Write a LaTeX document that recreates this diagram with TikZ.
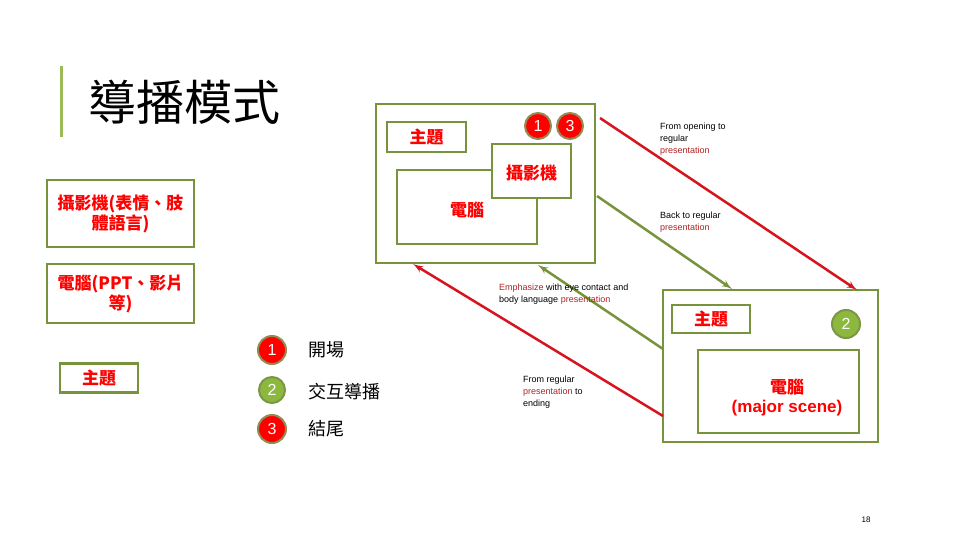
\documentclass[tikz,border=0pt]{standalone}
\usepackage{fontspec}
\setmainfont{Liberation Sans}
\newfontfamily\cjk{Noto Sans CJK TC}
\usetikzlibrary{arrows,positioning}

\definecolor{boxgreen}{HTML}{77933C}
\definecolor{bargreen}{HTML}{9BBB59}
\definecolor{arrowred}{HTML}{D7141E}
\definecolor{notered}{HTML}{B22222}
\definecolor{ballgreen}{HTML}{8DB83E}
\definecolor{ballrim}{HTML}{948A54}

\begin{document}
\begin{tikzpicture}
        [
            x=1pt, y=-1pt,
            frame/.style = {
                draw=boxgreen,
                line width=2.5pt,
                fill=white,
                inner sep=0pt
            },
            label/.style = {
                text=red,
                font=\cjk\bfseries\fontsize{17}{20}\selectfont,
                align=center,
                inner sep=0pt
            },
            ball/.style = {
                circle,
                draw=ballrim,
                line width=2pt,
                fill=red,
                text=white,
                minimum size=26pt,
                inner sep=0pt,
                font=\fontsize{16}{16}\selectfont
            },
            greenball/.style = {
                ball,
                fill=ballgreen,
                draw=bargreen!80!black
            },
            note/.style = {
                anchor=north west,
                align=left,
                inner sep=0pt,
                font=\fontsize{9}{12}\selectfont
            },
            legend/.style = {
                anchor=west,
                inner sep=0pt,
                font=\cjk\fontsize{18}{18}\selectfont
            },
            redline/.style = {
                draw=arrowred,
                line width=2.5pt,
                -latex'
            },
            greenline/.style = {
                draw=boxgreen,
                line width=2.5pt,
                -latex'
            }
        ]

        \useasboundingbox (0,0) rectangle (960,540);

        % title
        \draw[bargreen, line width=3pt] (61,66) -- (61,137);
        \node[anchor=west, inner sep=0pt, font=\cjk\fontsize{48}{48}\selectfont] (title) at (88,102) {導播模式};

        % opening / ending scene
        \node[frame, minimum width=219pt, minimum height=159pt] (topbox) at (485.5,183.5) {};
        \node[frame, minimum width=79pt, minimum height=30pt] (topsubject) at (426.5,137) {};
        \node[label] at (topsubject) {主題};
        \node[frame, minimum width=140pt, minimum height=74pt] (toppc) at (467,207) {};
        \node[label] at (467,210) {電腦};
        \node[frame, minimum width=79pt, minimum height=54pt] (topcam) at (531.5,171) {};
        \node[label] at (531.5,173) {攝影機};
        \node[ball] (one) at (538,126) {1};
        \node[ball] (three) at (570,126) {3};

        % regular scene
        \node[frame, minimum width=215pt, minimum height=152pt] (mainbox) at (770.5,366) {};
        \node[frame, minimum width=78pt, minimum height=28pt] (mainsubject) at (711,319) {};
        \node[label] at (mainsubject) {主題};
        \node[greenball, minimum size=28pt] (two) at (846,324) {2};
        \node[frame, minimum width=161pt, minimum height=83pt] (mainpc) at (778.5,391.5) {};
        \node[label, font=\bfseries\fontsize{17}{19}\selectfont] at (787,398) {{\cjk 電腦}\\(major scene)};

        % sources on the left
        \node[frame, minimum width=147pt, minimum height=67pt] (camsrc) at (120.5,213.5) {};
        \node[label, text width=140pt] at (camsrc) {攝影機(表情、肢\\體語言)};
        \node[frame, minimum width=147pt, minimum height=59pt] (pcsrc) at (120.5,293.5) {};
        \node[label, text width=140pt] at (pcsrc) {電腦(PPT、影片\\等)};
        \node[frame, minimum width=78pt, minimum height=29pt] (subjsrc) at (99,378) {};
        \node[label] at (subjsrc) {主題};

        % legend
        \node[ball, minimum size=28pt] (key1) at (272,350) {1};
        \node[greenball] (key2) at (272,390) {2};
        \node[ball, minimum size=28pt] (key3) at (272,429) {3};
        \node[legend] (open) at (308,350) {開場};
        \node[legend] (inter) at (308,392) {交互導播};
        \node[legend] (close) at (308,429) {結尾};

        % connectors
        \coordinate (r1a) at (600,118);
        \coordinate (r1b) at (857,290);
        \coordinate (g1a) at (597,196);
        \coordinate (g1b) at (732,289);
        \coordinate (r2a) at (663,416);
        \coordinate (r2b) at (413,264);
        \coordinate (g2a) at (663,349);
        \coordinate (g2b) at (538,265);

        \path[redline] (r1a) -- (r1b);
        \path[greenline] (g1a) -- (g1b);
        \path[redline] (r2a) -- (r2b);
        \path[greenline] (g2a) -- (g2b);

        \node[note] (n1) at (660,123) {From opening to\\regular\\\textcolor{notered}{presentation}};
        \node[note] (n2) at (660,212) {Back to regular\\\textcolor{notered}{presentation}};
        \node[note] (n3) at (499,284) {\textcolor{notered}{Emphasize} with eye contact and\\body language \textcolor{notered}{presentation}};
        \node[note] (n4) at (523,376) {From regular\\\textcolor{notered}{presentation} to\\ending};

        \node[inner sep=0pt, font=\fontsize{8}{8}\selectfont] (page) at (866,520) {18};
    \end{tikzpicture}
\end{document}
